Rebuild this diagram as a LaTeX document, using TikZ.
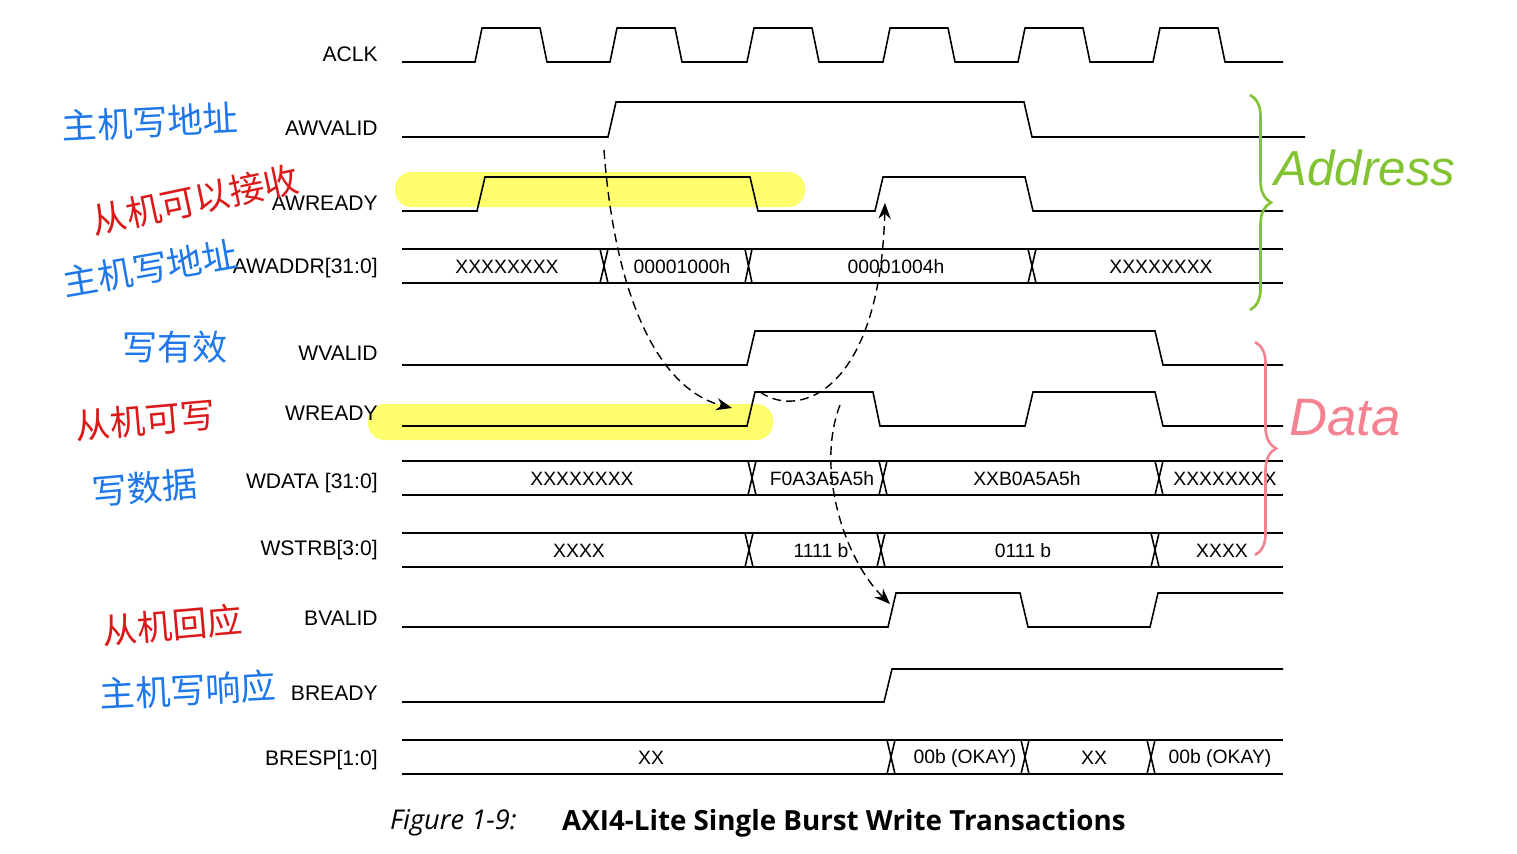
\documentclass[tikz,border=0pt]{standalone}
\usepackage{fontspec}
\setmainfont{Liberation Sans}
\newfontfamily\cjk{Noto Sans CJK SC}
\newfontfamily\capf{Open Sans}
\usetikzlibrary{arrows.meta,decorations.pathreplacing}
\definecolor{hb}{RGB}{30,120,235}
\definecolor{hr}{RGB}{220,25,25}
\definecolor{hg}{RGB}{130,195,50}
\definecolor{hp}{RGB}{245,130,145}
\definecolor{hy}{RGB}{255,255,110}
\newcommand\mybus[3]{%
  \draw[sig] (402,#1)--(1283,#1) (402,#2)--(1283,#2);
  \foreach \a/\b in {#3}{\fill[white] (\a,#1+1) rectangle (\b,#2-1);
    \draw[sig] (\a,#1)--(\b,#2) (\a,#2)--(\b,#1);}}
\begin{document}
\begin{tikzpicture}[x=0.02cm,y=-0.02cm,
  sig/.style={line width=0.9pt,black},
  lab/.style={anchor=east,inner sep=0pt,font=\fontsize{12}{14}\selectfont},
  val/.style={font=\fontsize{11}{14}\selectfont},
  hw/.style={font=\cjk\fontsize{20}{22}\selectfont},
  dsh/.style={dash pattern=on 5pt off 3pt,line width=0.8pt,-{Stealth[length=9pt,width=7pt]}}]
\useasboundingbox (0,0) rectangle (1517,853);
\fill[hy,rounded corners=9.5pt] (395,172) rectangle (805,207);
\fill[hy,rounded corners=9.5pt] (368,404) rectangle (773,440);
% labels
\node[lab] (l1) at (378,54) {ACLK};
\node[lab] (l2) at (378,128) {AWVALID};
\node[lab] (l3) at (378,203) {AWREADY};
\node[lab] (l4) at (378,268) {AWADDR[31:0]};
\node[lab] (l5) at (378,353) {WVALID};
\node[lab] (l6) at (378,413) {WREADY};
\node[lab] (l7) at (378,483) {WDATA [31:0]};
\node[lab] (l8) at (378,550) {WSTRB[3:0]};
\node[lab] (l9) at (378,618) {BVALID};
\node[lab] (l10) at (378,693) {BREADY};
\node[lab] (l11) at (378,760) {BRESP[1:0]};
% clock
\draw[sig] (402,62) foreach \x in {475,610,747,883,1018,1153}{-- (\x,62) -- (\x+7,28) -- (\x+65,28) -- (\x+72,62)} -- (1283,62);
\draw[sig] (402,137)--(608,137)--(616,102)--(1024,102)--(1032,137)--(1305,137);
\draw[sig] (402,211)--(477,211)--(485,177)--(750,177)--(758,211)--(875,211)--(883,177)--(1025,177)--(1033,211)--(1283,211);
\mybus{249}{283}{600/608,745/752,1028/1036}
\node[val] (a1) at (507,267) {XXXXXXXX};
\node[val] (a2) at (682,267) {00001000h};
\node[val] (a3) at (896,267) {00001004h};
\node[val] (a4) at (1161,267) {XXXXXXXX};
\draw[sig] (402,365)--(747,365)--(755,331)--(1155,331)--(1163,365)--(1283,365);
\draw[sig] (402,426)--(747,426)--(755,392)--(873,392)--(880,426)--(1025,426)--(1033,392)--(1155,392)--(1163,426)--(1283,426);
\mybus{461}{495}{748/756,879/887,1155/1163}
\node[val] (d1) at (582,479) {XXXXXXXX};
\node[val] (d2) at (822,479) {F0A3A5A5h};
\node[val] (d3) at (1027,479) {XXB0A5A5h};
\node[val] (d4) at (1225,479) {XXXXXXXX};
\mybus{533}{567}{745/753,877/885,1151/1159}
\node[val] (s1) at (579,551) {XXXX};
\node[val] (s2) at (821,551) {1111 b};
\node[val] (s3) at (1023,551) {0111 b};
\node[val] (s4) at (1222,551) {XXXX};
\draw[sig] (402,627)--(888,627)--(896,593)--(1020,593)--(1028,627)--(1150,627)--(1158,593)--(1283,593);
\draw[sig] (402,702)--(884,702)--(892,669)--(1283,669);
\mybus{740}{774}{887/895,1021/1029,1147/1155}
\node[val] (r1) at (651,758) {XX};
\node[val] (r2) at (965,758) {00b (OKAY)};
\node[val] (r3) at (1094,758) {XX};
\node[val] (r4) at (1220,758) {00b (OKAY)};
% dashed arrows
\coordinate (p1) at (604,150);
\coordinate (q1) at (732,408);
\draw[dsh] (p1) .. controls (615,300) and (660,390) .. (q1);
\coordinate (p2) at (760,392);
\coordinate (q2) at (885,203);
\draw[dsh] (p2) .. controls (800,420) and (880,390) .. (q2);
\coordinate (p3) at (840,405);
\coordinate (q3) at (890,604);
\draw[dsh] (p3) .. controls (815,470) and (845,560) .. (q3);
% caption
\node[font=\capf\itshape\fontsize{15.5}{18}\selectfont,anchor=west] (c1) at (384,823) {Figure 1-9:};
\node[font=\capf\bfseries\fontsize{15.8}{18}\selectfont,anchor=west] (c2) at (556,823) {AXI4-Lite Single Burst Write Transactions};
% handwriting
\node[hw,text=hb,rotate=3] (h1) at (150,122) {主机写地址};
\node[hw,text=hr,rotate=12] (h2) at (195,200) {从机可以接收};
\node[hw,text=hb,rotate=10] (h3) at (150,268) {主机写地址};
\node[hw,text=hb] (h4) at (175,347) {写有效};
\node[hw,text=hr,rotate=5] (h5) at (145,420) {从机可写};
\node[hw,text=hb,rotate=5] (h6) at (145,488) {写数据};
\node[hw,text=hr,rotate=5] (h7) at (172,625) {从机回应};
\node[hw,text=hb,rotate=3] (h8) at (188,690) {主机写响应};
\draw[hg,line width=1.5pt,decorate,decoration={brace,amplitude=12pt,mirror}] (1250,310)--(1250,95);
\node[text=hg,font=\fontsize{28}{30}\selectfont\itshape] (ad) at (1365,168) {Address};
\draw[hp,line width=1.5pt,decorate,decoration={brace,amplitude=12pt,mirror}] (1255,555)--(1255,342);
\node[text=hp,font=\fontsize{30}{32}\selectfont\itshape] (da) at (1345,418) {Data};
\end{tikzpicture}
\end{document}
